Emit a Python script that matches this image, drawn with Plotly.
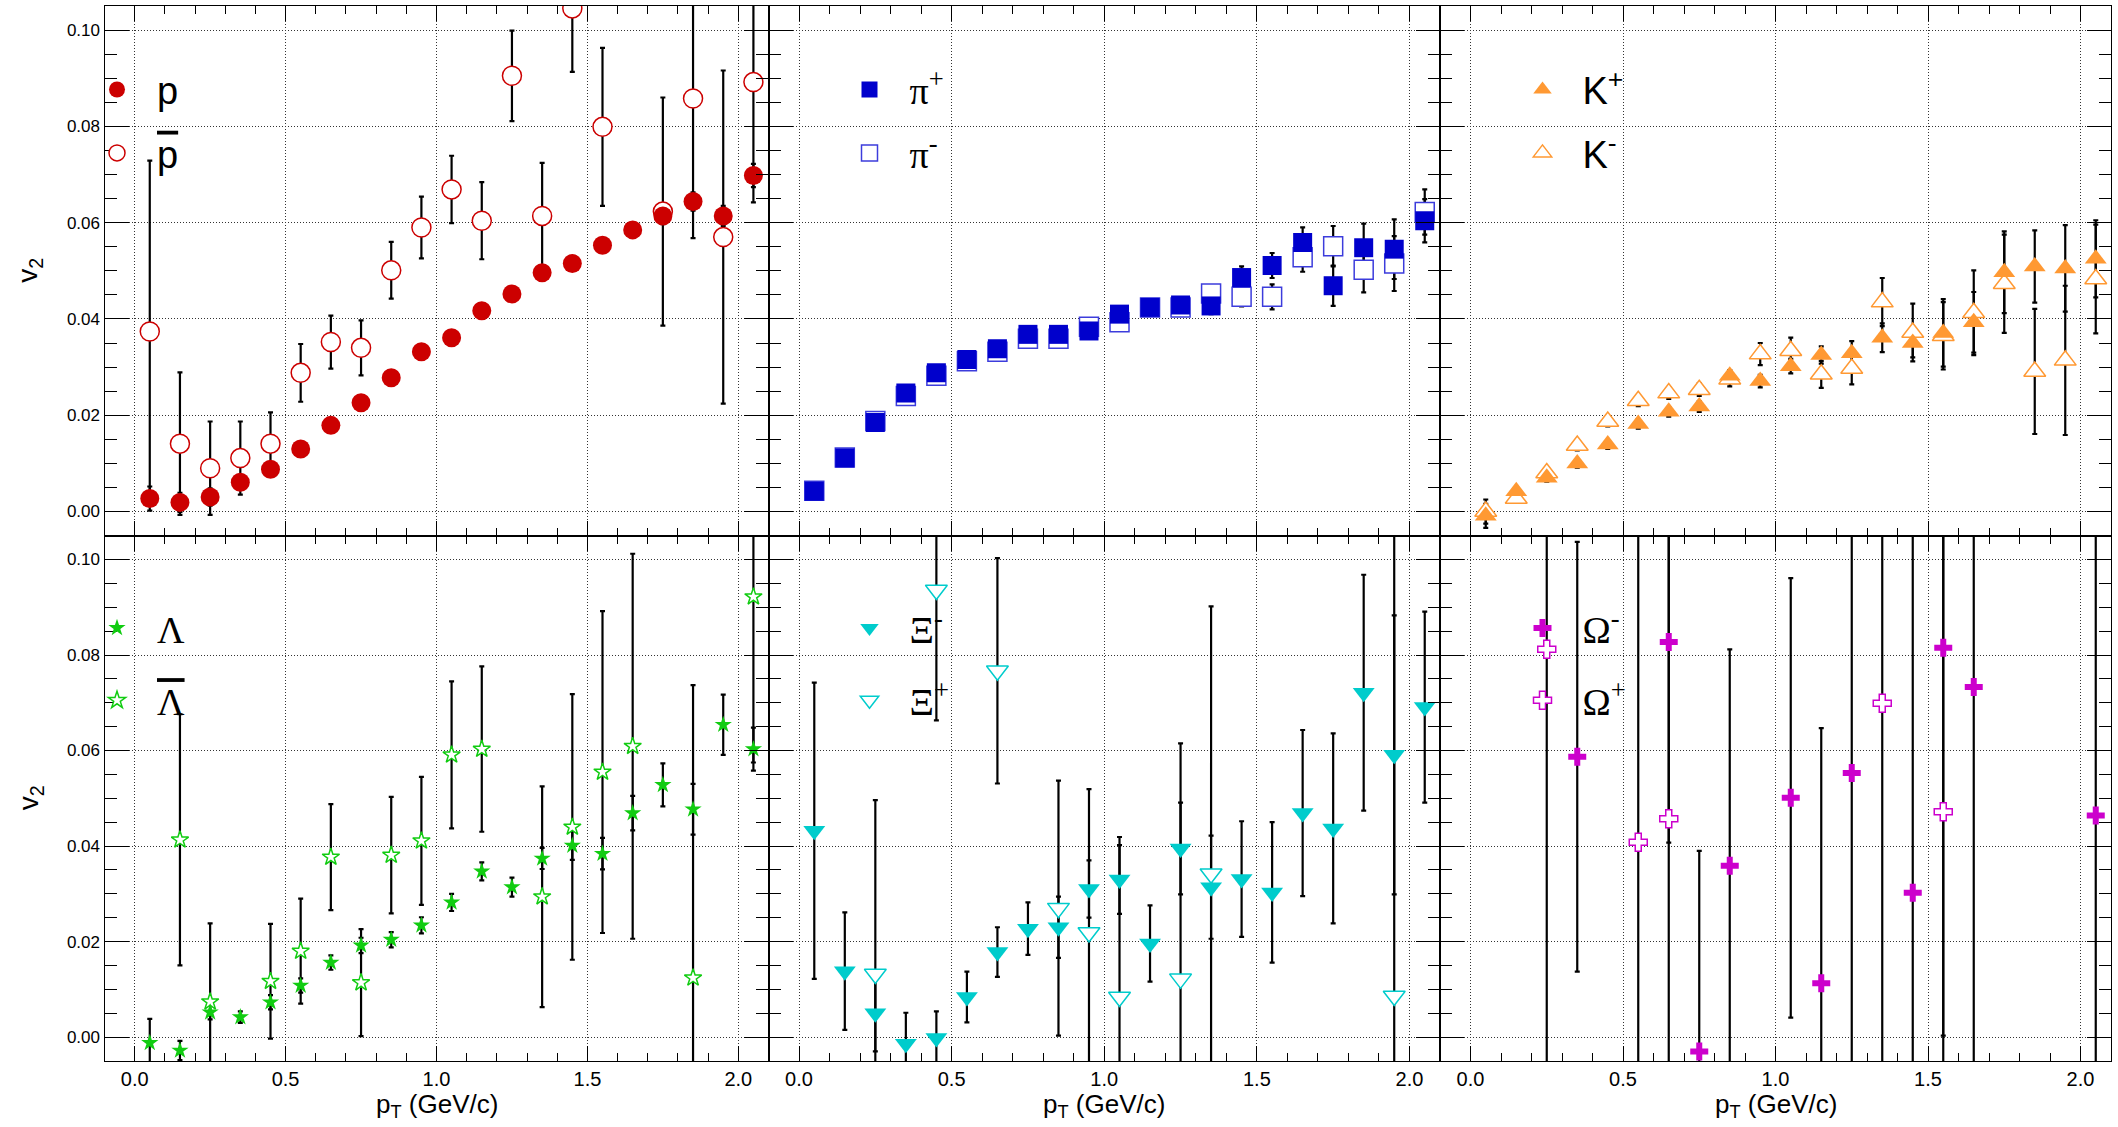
import plotly.graph_objects as go

# ---------------- data ----------------
pt = [0.05, 0.15, 0.25, 0.35, 0.45, 0.55, 0.65, 0.75, 0.85, 0.95, 1.05,
      1.15, 1.25, 1.35, 1.45, 1.55, 1.65, 1.75, 1.85, 1.95, 2.05]

p_v2 = [0.0027, 0.0019, 0.0030, 0.0061, 0.0088, 0.0130, 0.0179, 0.0226, 0.0278, 0.0332, 0.0361,
        0.0417, 0.0452, 0.0496, 0.0515, 0.0553, 0.0585, 0.0614, 0.0644, 0.0614, 0.0698]
p_err = [0.0025, 0.0020, 0.0018, 0.0015, 0.0012, 0.0010, 0.0010, 0.0010, 0.0010, 0.0010, 0.0010,
         0.0010, 0.0011, 0.0012, 0.0013, 0.0014, 0.0015, 0.0017, 0.0019, 0.0021, 0.0024]
pbar_v2 = [0.0374, 0.0141, 0.0090, 0.0111, 0.0141, 0.0288, 0.0352, 0.0340, 0.0501, 0.0590, 0.0669,
           0.0604, 0.0905, 0.0614, 0.1045, 0.0799, None, 0.0623, 0.0858, 0.0570, 0.0892]
pbar_err = [0.0355, 0.0148, 0.0097, 0.0076, 0.0065, 0.0060, 0.0055, 0.0057, 0.0059, 0.0064, 0.0070,
            0.0080, 0.0094, 0.0110, 0.0132, 0.0164, None, 0.0237, 0.0290, 0.0346, 0.0250]

pip_v2 = [0.0042, 0.0111, 0.0185, 0.0246, 0.0288, 0.0316, 0.0338, 0.0368, 0.0368, 0.0375, 0.0410,
          0.0424, 0.0429, 0.0427, 0.0486, 0.0511, 0.0559, 0.0469, 0.0548, 0.0545, 0.0604]
pip_err = [0.0004, 0.0005, 0.0006, 0.0007, 0.0008, 0.0009, 0.0010, 0.0010, 0.0011, 0.0012, 0.0013,
           0.0014, 0.0015, 0.0017, 0.0023, 0.0026, 0.0031, 0.0042, 0.0050, 0.0062, 0.0045]
pim_v2 = [0.0043, 0.0112, 0.0188, 0.0240, 0.0282, 0.0312, 0.0332, 0.0359, 0.0359, 0.0384, 0.0393,
          0.0424, 0.0424, 0.0453, 0.0446, 0.0446, 0.0528, 0.0551, 0.0502, 0.0515, 0.0622]
pim_err = [0.0004, 0.0005, 0.0006, 0.0007, 0.0008, 0.0009, 0.0010, 0.0010, 0.0011, 0.0012, 0.0013,
           0.0014, 0.0015, 0.0017, 0.0020, 0.0026, 0.0030, 0.0042, 0.0047, 0.0057, 0.0047]

kp_v2 = [-0.0009, 0.0042, 0.0070, 0.0100, 0.0139, 0.0182, 0.0207, 0.0218, 0.0282, 0.0271, 0.0302,
         0.0325, 0.0329, 0.0361, 0.0350, 0.0371, 0.0393, 0.0497, 0.0509, 0.0505, 0.0525]
kp_err = [0.0025, 0.0008, 0.0008, 0.0009, 0.0009, 0.0010, 0.0010, 0.0011, 0.0012, 0.0013, 0.0015,
          0.0018, 0.0025, 0.0030, 0.0030, 0.0070, 0.0063, 0.0085, 0.0075, 0.0090, 0.0080]
km_v2 = [0.0000, 0.0027, 0.0080, 0.0137, 0.0187, 0.0230, 0.0246, 0.0253, 0.0275, 0.0327, 0.0334,
         0.0285, 0.0297, 0.0435, 0.0372, 0.0365, 0.0413, 0.0473, 0.0291, 0.0314, 0.0483]
km_err = [0.0025, 0.0008, 0.0009, 0.0010, 0.0010, 0.0011, 0.0012, 0.0013, 0.0015, 0.0023, 0.0027,
          0.0028, 0.0033, 0.0050, 0.0060, 0.0070, 0.0088, 0.0102, 0.0130, 0.0155, 0.0113]

lam_v2 = [-0.0012, -0.0028, 0.0052, 0.0042, 0.0073, 0.0108, 0.0156, 0.0192, 0.0204, 0.0234, 0.0282,
          0.0347, 0.0314, 0.0374, 0.0401, 0.0384, 0.0469, 0.0528, 0.0477, 0.0654, 0.0603]
lam_err = [0.0050, 0.0020, 0.0015, 0.0012, 0.0015, 0.0015, 0.0015, 0.0016, 0.0016, 0.0017, 0.0018,
           0.0019, 0.0020, 0.0022, 0.0030, 0.0033, 0.0036, 0.0045, 0.0053, 0.0063, 0.0045]
alam_v2 = [None, 0.0413, 0.0074, None, 0.0117, 0.0180, 0.0377, 0.0114, 0.0381, 0.0411, 0.0591,
           0.0603, None, 0.0294, 0.0440, 0.0555, 0.0609, None, 0.0124, None, 0.0922]
alam_err = [None, 0.0263, 0.0164, None, 0.0120, 0.0110, 0.0111, 0.0112, 0.0122, 0.0134, 0.0154,
            0.0173, None, 0.0231, 0.0278, 0.0337, 0.0403, None, 0.0613, None, 0.0347]

xim_v2 = [0.0432, 0.0138, 0.0050, -0.0014, -0.0002, 0.0084, 0.0178, 0.0227, 0.0230, 0.0310, 0.0330,
          0.0196, 0.0395, 0.0314, 0.0331, 0.0303, 0.0469, 0.0437, 0.0721, 0.0591, 0.0691]
xim_err = [0.0310, 0.0123, 0.0080, 0.0065, 0.0056, 0.0053, 0.0052, 0.0055, 0.0064, 0.0060, 0.0072,
           0.0080, 0.0096, 0.0108, 0.0121, 0.0147, 0.0174, 0.0199, 0.0247, 0.0292, 0.0200]
xip_v2 = [None, None, 0.0132, None, 0.0936, None, 0.0767, None, 0.0270, 0.0219, 0.0084,
          None, 0.0122, 0.0342, None, None, None, None, None, 0.0086, None]
xip_err = [None, None, 0.0364, None, 0.0273, None, 0.0236, None, 0.0267, 0.0300, 0.0335,
           None, 0.0493, 0.0560, None, None, None, None, None, 0.1000, None]

omm_v2 = [None, None, None, 0.0587, None, None, 0.0827, -0.0030, 0.0359, None, 0.0501,
          0.0113, 0.0553, None, 0.0302, 0.0815, 0.0733, None, None, None, 0.0464]
omm_err = [None, None, None, 0.0450, None, None, 0.0420, 0.0420, 0.0453, None, 0.0460,
           0.0534, 0.0700, None, 0.0800, 0.0812, 0.0850, None, None, None, 0.0700]
omp_v2 = [None, None, 0.0812, None, None, 0.0408, 0.0457, None, None, None, None,
          None, None, 0.0699, None, 0.0472, None, None, None, None, None]
omp_err = [None, None, 0.1000, None, None, 0.0700, 0.0700, None, None, None, None,
           None, None, 0.0800, None, 0.0700, None, None, None, None, None]

x_ticks = [0.0, 0.5, 1.0, 1.5, 2.0]
y_ticks = [0.00, 0.02, 0.04, 0.06, 0.08, 0.10]

# ---------------- style ----------------
RED, BLUE, BLUE_OPEN = '#cc0000', '#0000cc', '#3c3cdc'
ORANGE, GREEN, CYAN, MAGENTA = '#ff9933', '#11cc11', '#00cccc', '#cc00cc'
SANS, SERIF = 'Liberation Sans', 'Liberation Serif'

W, H = 2118, 1127
col_px = [104.5, 768.5, 1440.0, 2111.0]
row_px = [6.0, 535.6, 1061.0]
xdom = [[col_px[i] / W, col_px[i + 1] / W] for i in range(3)]
ydom = [[1 - row_px[r + 1] / H, 1 - row_px[r] / H] for r in range(2)]

OVER = '<span style="text-decoration:overline">%s</span>'

panels = [
    dict(font=SANS, gap=11, series=[
        ('p', p_v2, p_err, 'circle', RED, 19, False),
        (OVER % 'p', pbar_v2, pbar_err, 'circle', RED, 19, True)]),
    dict(font=SERIF, gap=11, series=[
        ('\u03c0<sup>+</sup>', pip_v2, pip_err, 'square', BLUE, 19, False),
        ('\u03c0<sup>-</sup>', pim_v2, pim_err, 'square', BLUE_OPEN, 19, True)]),
    dict(font=SANS, gap=11, series=[
        ('K<sup>+</sup>', kp_v2, kp_err, 'triangle-up', ORANGE, 19, False),
        ('K<sup>-</sup>', km_v2, km_err, 'triangle-up', ORANGE, 19, True)]),
    dict(font=SERIF, gap=20, series=[
        ('\u039b', lam_v2, lam_err, 'star', GREEN, 13, False),
        (OVER % '\u039b', alam_v2, alam_err, 'star', GREEN, 13, True)]),
    dict(font=SERIF, gap=20, series=[
        ('\u039e<sup>-</sup>', xim_v2, xim_err, 'triangle-down', CYAN, 19, False),
        ('\u039e<sup>+</sup>', xip_v2, xip_err, 'triangle-down', CYAN, 19, True)]),
    dict(font=SERIF, gap=20, series=[
        ('\u03a9<sup>-</sup>', omm_v2, omm_err, 'cross', MAGENTA, 15, False),
        ('\u03a9<sup>+</sup>', omp_v2, omp_err, 'cross', MAGENTA, 15, True)]),
]

# legend symbol centres (px) : x per column, y of first entry per row
leg_sym_x = [117.0, 869.5, 1542.5]
leg_sym_y = [88.3, 626.7]

fig = go.Figure()
layout = dict(width=W, height=H, margin=dict(l=0, r=0, t=0, b=0),
              paper_bgcolor='white', plot_bgcolor='white', showlegend=True,
              font=dict(family=SANS, color='black'))

for k, pan in enumerate(panels):
    r, c = divmod(k, 3)
    ax = '' if k == 0 else str(k + 1)
    legname = 'legend' if k == 0 else 'legend%d' % (k + 1)
    # 1) error bars (drawn first, beneath every marker)
    for (name, vals, errs, sym, col, size, is_open) in pan['series']:
        fig.add_trace(go.Scatter(
            x=pt, y=vals, mode='markers', xaxis='x' + ax, yaxis='y' + ax,
            marker=dict(size=2, color='rgba(0,0,0,0)'),
            error_y=dict(type='data', array=errs, visible=True,
                         color='black', thickness=2.2, width=2.5),
            showlegend=False, hoverinfo='skip'))
    # 2) hollow markers (white inside), 3) filled markers on top
    order = sorted(range(2), key=lambda j: 0 if pan['series'][j][6] else 1)
    for j in order:
        name, vals, errs, sym, col, size, is_open = pan['series'][j]
        fig.add_trace(go.Scatter(
            x=pt, y=vals, mode='markers', name=name,
            xaxis='x' + ax, yaxis='y' + ax, legend=legname,
            legendgroup='g%d_%d' % (k, j), legendrank=j + 1,
            marker=dict(symbol=sym, size=size,
                        color='white' if is_open else col,
                        line=dict(color=col, width=1.5 if is_open else 0)),
            showlegend=True))
    xa = dict(domain=xdom[c], anchor='y' + ax, range=[-0.1, 2.1],
              tickmode='array', tickvals=x_ticks,
              ticktext=['%.1f' % v for v in x_ticks], showticklabels=(r == 1),
              ticks='inside', ticklen=15, tickwidth=1.3, tickcolor='black',
              minor=dict(ticks='inside', ticklen=8, dtick=0.1, tick0=0.0,
                         tickwidth=1.3, tickcolor='black', showgrid=False),
              showgrid=True, gridcolor='#333333', gridwidth=1, griddash='1px,2px',
              zeroline=False, showline=True, linecolor='black', linewidth=1.2,
              mirror='allticks', tickfont=dict(size=20, family=SANS, color='black'),
              automargin=False, fixedrange=True)
    ya = dict(domain=ydom[r], anchor='x' + ax, range=[-0.005, 0.105],
              tickmode='array', tickvals=y_ticks,
              ticktext=['%.2f' % v for v in y_ticks], showticklabels=(c == 0),
              ticks='inside', ticklen=24, tickwidth=1.3, tickcolor='black',
              minor=dict(ticks='inside', ticklen=12, dtick=0.005, tick0=0.0,
                         tickwidth=1.3, tickcolor='black', showgrid=False),
              showgrid=True, gridcolor='#333333', gridwidth=1, griddash='1px,2px',
              zeroline=False, showline=True, linecolor='black', linewidth=1.2,
              mirror='allticks', tickfont=dict(size=17, family=SANS, color='black'),
              automargin=False, fixedrange=True)
    layout['xaxis' + ax] = xa
    layout['yaxis' + ax] = ya
    layout[legname] = dict(
        x=(leg_sym_x[c] - 40) / W, y=1 - (leg_sym_y[r] - 30) / H,
        xanchor='left', yanchor='top', bgcolor='rgba(0,0,0,0)', borderwidth=0,
        itemwidth=70, tracegroupgap=pan['gap'], traceorder='grouped',
        font=dict(family=pan['font'], size=38, color='black'))

annotations = []
for c in range(3):
    annotations.append(dict(
        text='p<sub>T</sub> (GeV/c)', xref='paper', yref='paper',
        x=(col_px[c] + col_px[c + 1]) / 2 / W, y=1 - 1105 / H,
        xanchor='center', yanchor='middle', showarrow=False,
        font=dict(family=SANS, size=26, color='black')))
for r in range(2):
    annotations.append(dict(
        text='v<sub>2</sub>', xref='paper', yref='paper',
        x=30 / W, y=1 - (row_px[r] + row_px[r + 1]) / 2 / H,
        xanchor='center', yanchor='middle', showarrow=False, textangle=-90,
        font=dict(family=SANS, size=28, color='black')))
layout['annotations'] = annotations

fig.update_layout(**layout)
fig.write_html('out.html')
